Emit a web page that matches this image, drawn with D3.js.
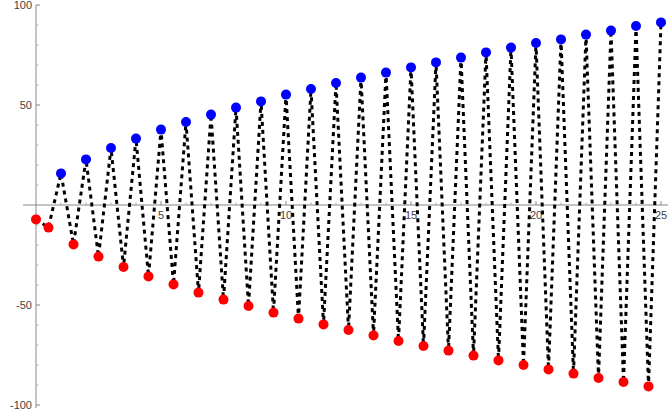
<!DOCTYPE html>
<html>
<head>
<meta charset="utf-8">
<script src="https://cdn.jsdelivr.net/npm/d3@7"></script>
<style>
  body { margin: 0; background: #fff; }
  svg { display: block; }
  .tick text { font-family: "Liberation Sans", Arial, sans-serif; font-size: 11px; fill: #444; }
</style>
</head>
<body>
<div id="chart"></div>
<script>
const width = 668, height = 419;

// points in plotting order
const xValues = [0, 0.5, 1, 1.5, 2, 2.5, 3, 3.5, 4, 4.5, 5, 5.5, 6, 6.5, 7, 7.5, 8, 8.5, 9, 9.5,
  10, 10.5, 11, 11.5, 12, 12.5, 13, 13.5, 14, 14.5, 15, 15.5, 16, 16.5, 17, 17.5, 18, 18.5, 19, 19.5,
  20, 20.5, 21, 21.5, 22, 22.5, 23, 23.5, 24, 24.5, 25];
const yValues = [-7.2, -11.3, 15.8, -19.7, 22.8, -25.8, 28.5, -31, 33.2, -35.7, 37.7, -39.7, 41.5, -43.8,
  45.2, -47.3, 48.7, -50.5, 51.8, -53.8, 55.2, -56.8, 58, -59.7, 61, -62.5, 63.7, -65.2, 66.2, -68,
  68.8, -70.5, 71.3, -72.8, 73.7, -75.3, 76.3, -77.7, 78.7, -80, 81, -82.2, 82.8, -84.3, 85.2, -86.5,
  87.2, -88.5, 89.5, -90.7, 91.3];

const xTicks = [5, 10, 15, 20, 25];
const yTicks = [-100, -50, 50, 100];

const data = xValues.map((x, i) => ({ x: x, y: yValues[i] }));

const x = d3.scaleLinear().domain([0, 25]).range([36, 661]);
const y = d3.scaleLinear().domain([-100, 100]).range([405, 5]);

const svg = d3.select("#chart").append("svg")
    .attr("width", width)
    .attr("height", height);

// x axis along y = 0, ticks pointing up
const xAxis = svg.append("g")
    .attr("transform", `translate(0,${y(0)})`);
xAxis.append("line")
    .attr("x1", 23).attr("x2", width)
    .attr("stroke", "#888").attr("stroke-width", 1);
xAxis.selectAll(".minor")
    .data(d3.range(1, 26).filter(d => d % 5 !== 0))
    .enter().append("line")
    .attr("x1", d => x(d)).attr("x2", d => x(d))
    .attr("y1", 0).attr("y2", -2.5)
    .attr("stroke", "#aaa");
const xt = xAxis.selectAll(".tick")
    .data(xTicks)
    .enter().append("g")
    .attr("class", "tick")
    .attr("transform", d => `translate(${x(d)},0)`);
xt.append("line").attr("y2", -4).attr("stroke", "#888");
xt.append("text")
    .attr("y", 14)
    .attr("text-anchor", "middle")
    .text(d => d);

// y axis at x = 0, ticks pointing right
const yAxis = svg.append("g")
    .attr("transform", `translate(${x(0)},0)`);
yAxis.append("line")
    .attr("y1", 5).attr("y2", 408)
    .attr("stroke", "#888").attr("stroke-width", 1);
yAxis.selectAll(".minor")
    .data(d3.range(-90, 100, 10).filter(d => d % 50 !== 0))
    .enter().append("line")
    .attr("y1", d => y(d)).attr("y2", d => y(d))
    .attr("x1", 0).attr("x2", 2.5)
    .attr("stroke", "#aaa");
const yt = yAxis.selectAll(".tick")
    .data(yTicks)
    .enter().append("g")
    .attr("class", "tick")
    .attr("transform", d => `translate(0,${y(d)})`);
yt.append("line").attr("x2", 4).attr("stroke", "#888");
yt.append("text")
    .attr("x", -4)
    .attr("dy", "0.35em")
    .attr("text-anchor", "end")
    .text(d => d);

// dashed connecting line
const line = d3.line()
    .x(d => x(d.x))
    .y(d => y(d.y));

svg.append("path")
    .datum(data)
    .attr("d", line)
    .attr("fill", "none")
    .attr("stroke", "#000")
    .attr("stroke-width", 3)
    .attr("stroke-dasharray", "4,4");

svg.selectAll(".dot")
    .data(data)
    .enter().append("circle")
    .attr("class", "dot")
    .attr("cx", d => x(d.x))
    .attr("cy", d => y(d.y))
    .attr("r", 5)
    .attr("fill", d => d.y < 0 ? "#ff0000" : "#0000ff");
</script>
</body>
</html>
